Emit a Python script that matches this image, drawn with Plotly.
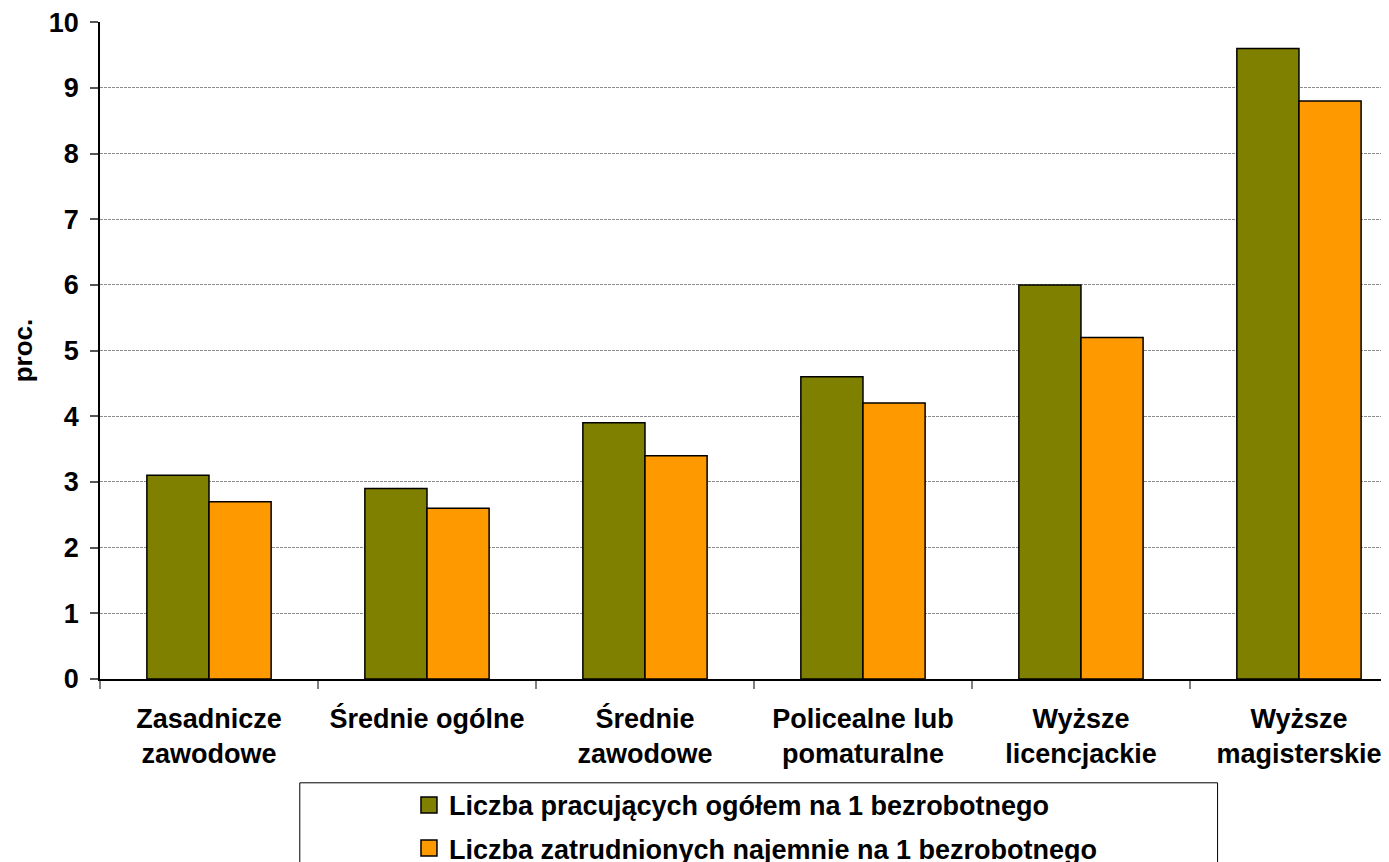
import plotly.graph_objects as go

# Data
categories = [
    "Zasadnicze<br>zawodowe",
    "Średnie ogólne",
    "Średnie<br>zawodowe",
    "Policealne lub<br>pomaturalne",
    "Wyższe<br>licencjackie",
    "Wyższe<br>magisterskie",
]
pracujacy = [3.1, 2.9, 3.9, 4.6, 6.0, 9.6]
zatrudnieni = [2.7, 2.6, 3.4, 4.2, 5.2, 8.8]
series_names = [
    "Liczba pracujących ogółem na 1 bezrobotnego",
    "Liczba zatrudnionych najemnie na 1 bezrobotnego",
]
colors = ["#808000", "#FF9900"]
y_ticks = list(range(0, 11))

FONT = "Liberation Sans, Arial, sans-serif"

fig = go.Figure()

# Bars (legend drawn by marker traces below so the swatches are bigger)
for name, vals, col in zip(series_names, [pracujacy, zatrudnieni], colors):
    fig.add_trace(go.Bar(
        x=categories, y=vals, name=name,
        marker=dict(color=col, line=dict(color="#000000", width=1.5)),
        showlegend=False,
    ))

for i, (name, col) in enumerate(zip(series_names, colors)):
    fig.add_trace(go.Scatter(
        x=[None], y=[None], mode="markers", name=name,
        marker=dict(symbol="square", size=16, color=col,
                    line=dict(color="#000000", width=1.5)),
        legendgroup=f"g{i}",
    ))

# Legend frame (extends below the visible page like the original)
fig.add_shape(
    type="rect", xref="paper", yref="paper",
    x0=0.155, x1=0.867, y0=-0.158, y1=-0.35,
    line=dict(color="#000000", width=1), fillcolor="rgba(0,0,0,0)",
    layer="below",
)

# page body has an 8px margin, so the margins are 8px smaller on top/left
fig.update_layout(
    width=1389, height=862,
    margin=dict(l=92, r=8, t=14, b=191, autoexpand=False),
    paper_bgcolor="white",
    plot_bgcolor="white",
    barmode="group",
    bargap=0.43,
    bargroupgap=0,
    font=dict(family=FONT, size=27, color="#000000", weight="bold"),
    xaxis=dict(
        type="category",
        range=[-0.5, 5.413],
        automargin=False,
        showline=True, linecolor="#000000", linewidth=1.5,
        ticks="outside", tickson="boundaries", ticklen=8,
        tickcolor="#808080", tickwidth=1.5,
        ticklabelstandoff=15,
        tickfont=dict(family=FONT, size=27, weight="bold"),
        showgrid=False,
    ),
    yaxis=dict(
        range=[0, 10.002],
        tickvals=y_ticks,
        automargin=False,
        ticklabeloverflow="allow",
        showline=True, linecolor="#000000", linewidth=1.5,
        ticks="outside", ticklen=8, tickcolor="#555555", tickwidth=1.5,
        ticklabelstandoff=6,
        tickfont=dict(family=FONT, size=27, weight="bold"),
        showgrid=True, gridcolor="#8c8c8c", gridwidth=1, griddash="3px,1px",
        zeroline=False,
        title=dict(text="proc.", font=dict(family=FONT, size=26, weight="bold"),
                   standoff=15),
    ),
    legend=dict(
        x=0.2397, y=-0.155, xanchor="left", yanchor="top",
        bgcolor="rgba(0,0,0,0)", borderwidth=0,
        font=dict(family=FONT, size=27, weight="bold"),
        tracegroupgap=5, itemwidth=30,
    ),
)

fig.write_html("out.html")
